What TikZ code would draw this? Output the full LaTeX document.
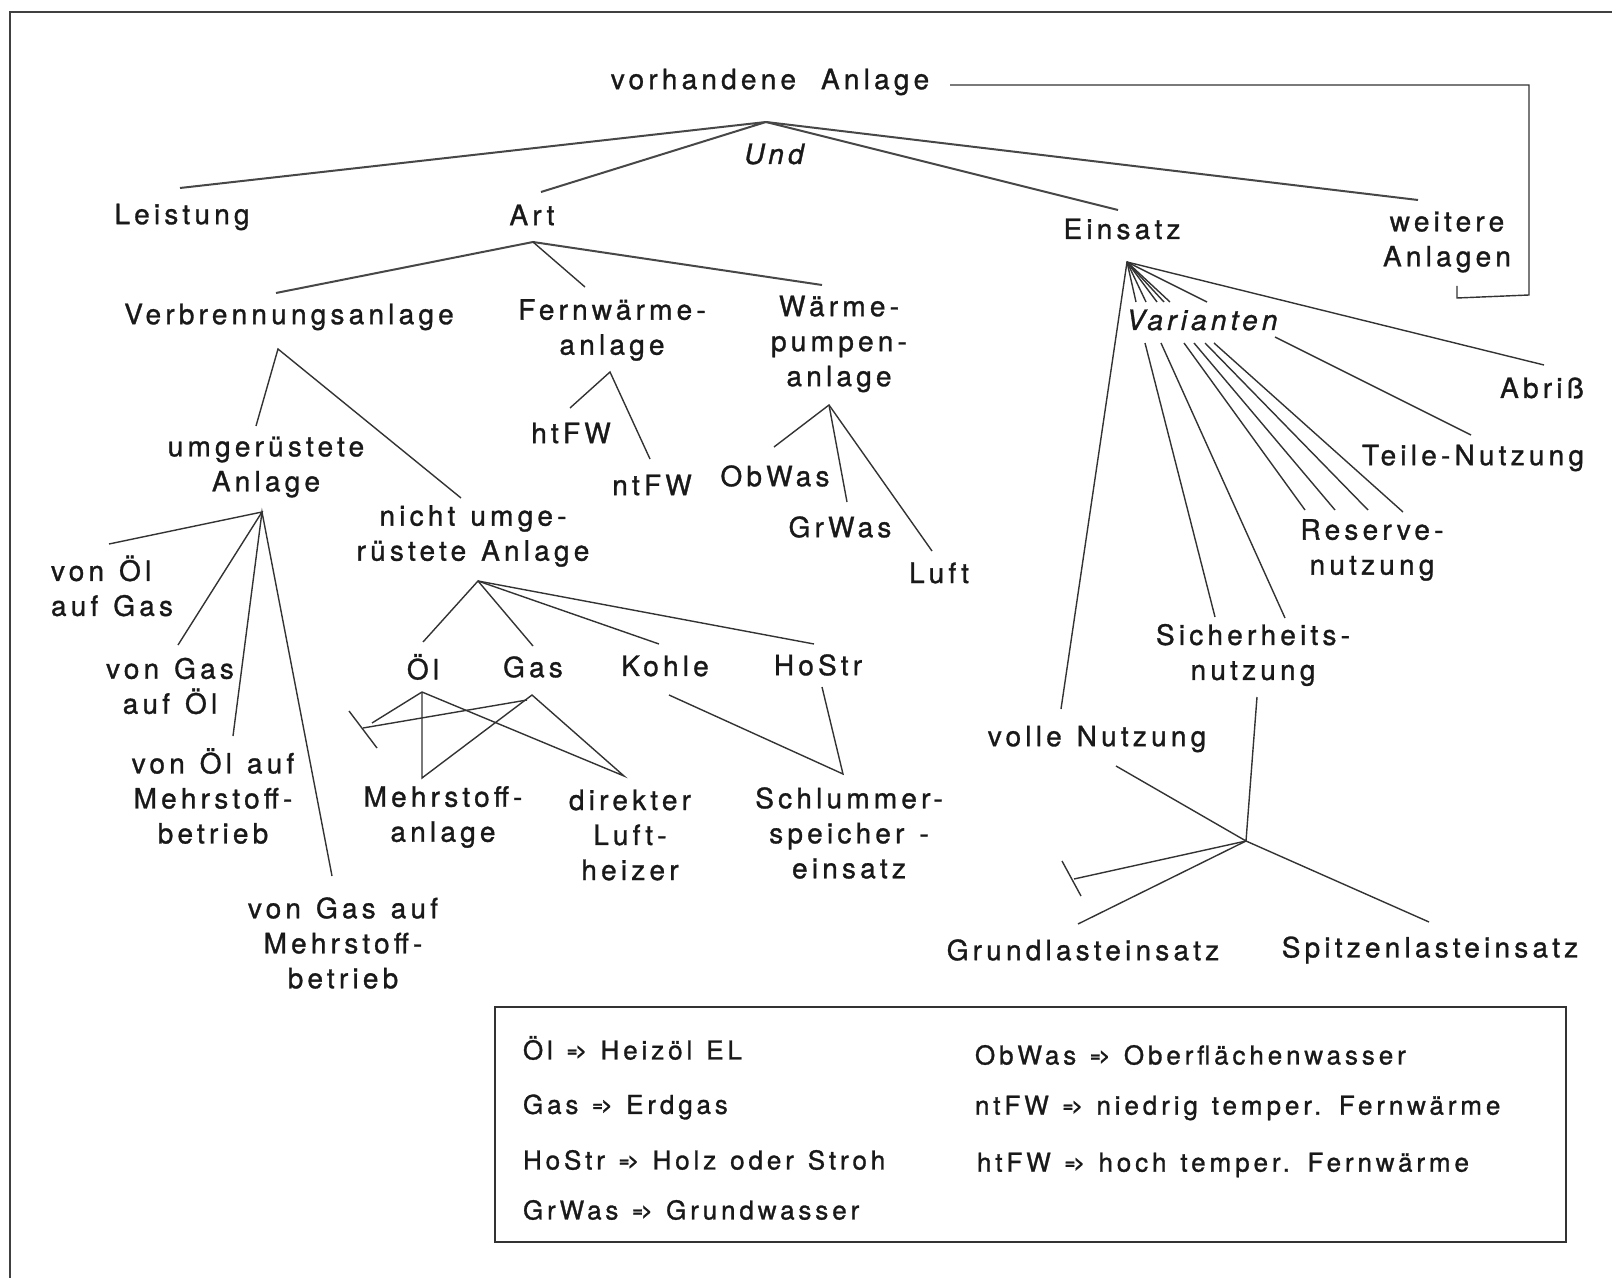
\documentclass[tikz,border=0pt]{standalone}
\usepackage{fontspec}
\newfontfamily\dfont{TeX Gyre Heros}[LetterSpace=15,FakeBold=1.1,WordSpace=1.25]
\newcommand\diafont{\dfont\fontsize{14}{17.5}\selectfont}
\newcommand\legfont{\dfont\fontsize{13}{14}\selectfont}
\newcommand\imp{{\fontsize{9}{8}\selectfont\bfseries\raisebox{0.3ex}{=\kern-0.6pt>}}}
\begin{document}
\begin{tikzpicture}[x=0.5pt,y=-0.5pt,
  every node/.style={inner sep=0pt, outer sep=0pt, text=black!90, font=\diafont},
  lbl/.style={align=center},
  con/.style={draw=black!80, line width=0.7pt},
  topcon/.style={draw=black!72, line width=1pt},
  leg/.style={anchor=west, font=\legfont},
]
\useasboundingbox (0,0) rectangle (1612,1278);
% frame
\draw[black!75, line width=0.8pt] (10,1278) -- (10,12) -- (1612,12);

% ---------- nodes ----------
\node (root) at (770,82) {vorhandene\hspace{5pt} Anlage};
\node[font=\diafont\itshape] (und) at (774,154) {Und};
\node (leistung) at (182,217) {Leistung};
\node (art) at (532,215) {Art};
\node (einsatz) at (1122,229) {Einsatz};
\node[lbl] (weitere) at (1447,242) {weitere\\Anlagen};

\node (verbr) at (289,317) {Verbrennungsanlage};
\node[lbl] (fernw) at (612,330) {Fernwärme-\\anlage};
\node[lbl] (waermep) at (839,344) {Wärme-\\pumpen-\\anlage};
\node[font=\diafont\itshape] (varianten) at (1202,320) {Varianten};
\node (abriss) at (1542,388) {Abriß};
\node (teile) at (1473,458) {Teile-Nutzung};

\node (htfw) at (571,433) {htFW};
\node (ntfw) at (652,485) {ntFW};
\node[lbl] (umger) at (266,467) {umgerüstete\\Anlage};
\node[lbl] (nicht) at (473,536) {nicht umge-\\rüstete Anlage};
\node (obwas) at (775,476) {ObWas};
\node (grwas) at (840,527) {GrWas};
\node (luft) at (939,573) {Luft};
\node[lbl] (reserve) at (1372,550) {Reserve-\\nutzung};

\node[align=left, anchor=west] (oelgas) at (51,586) {von Öl\\auf Gas};
\node[lbl] (gasoel) at (170,686) {von Gas\\auf Öl};
\node[lbl] (oelmehr) at (213,796) {von Öl auf\\Mehrstoff-\\betrieb};
\node[lbl] (gasmehr) at (343,943) {von Gas auf\\Mehrstoff-\\betrieb};

\node (oel) at (423,667) {Öl};
\node (gas) at (533,667) {Gas};
\node (kohle) at (665,666) {Kohle};
\node (hostr) at (818,665) {HoStr};
\node[lbl] (sicher) at (1253,655) {Sicherheits-\\nutzung};
\node (volle) at (1097,739) {volle Nutzung};

\node[lbl] (mehrst) at (443,817) {Mehrstoff-\\anlage};
\node[lbl] (direkt) at (630,835) {direkter\\Luft-\\heizer};
\node[lbl] (schlum) at (849,833) {Schlummer-\\speicher -\\einsatz};
\node (grund) at (1083,950) {Grundlasteinsatz};
\node (spitze) at (1430,950) {Spitzenlasteinsatz};

% ---------- junction points ----------
\coordinate (rootJ) at (766,122);
\coordinate (artJ) at (533,242);
\coordinate (verbrJ) at (278,349);
\coordinate (fernwJ) at (610,372);
\coordinate (waermepJ) at (829,405);
\coordinate (umgerJ) at (262,512);
\coordinate (nichtJ) at (478,581);
\coordinate (oelJ) at (422,692);
\coordinate (gasJ) at (532,695);
\coordinate (kohleJ) at (669,695);
\coordinate (hostrJ) at (822,687);
\coordinate (einsatzJ) at (1127,262);
\coordinate (sicherJ) at (1257,697);
\coordinate (volleJ) at (1116,766);
\coordinate (lastJ) at (1246,841);

% ---------- connector ends ----------
\coordinate (leistungE) at (180,188);
\coordinate (artE) at (541,192);
\coordinate (einsatzE) at (1118,210);
\coordinate (weitereE) at (1418,200);
\coordinate (verbrE) at (276,293);
\coordinate (fernwE) at (585,287);
\coordinate (waermepE) at (822,285);
\coordinate (umgerE) at (256,426);
\coordinate (nichtE) at (461,498);
\coordinate (htfwE) at (570,408);
\coordinate (ntfwE) at (650,459);
\coordinate (obwasE) at (774,447);
\coordinate (grwasE) at (847,502);
\coordinate (luftE) at (932,551);
\coordinate (oelgasE) at (109,544);
\coordinate (gasoelE) at (178,645);
\coordinate (oelmehrE) at (233,736);
\coordinate (gasmehrE) at (332,876);
\coordinate (oelE) at (423,642);
\coordinate (gasE) at (533,646);
\coordinate (kohleE) at (659,644);
\coordinate (hostrE) at (814,644);
\coordinate (mehrstE) at (422,778);
\coordinate (direktE) at (624,776);
\coordinate (schlumE) at (843,774);
\coordinate (stopA) at (363,728);
\coordinate (stopA1) at (349,711);
\coordinate (stopA2) at (377,748);
\coordinate (oelStop) at (372,723);
\coordinate (gasStop) at (527,700);
\coordinate (abrissE) at (1544,365);
\coordinate (volleE) at (1061,709);
\coordinate (grundE) at (1078,924);
\coordinate (spitzeE) at (1429,922);
\coordinate (stopB) at (1074,879);
\coordinate (stopB1) at (1062,861);
\coordinate (stopB2) at (1081,896);

% ---------- top level ----------
\draw[topcon] (leistungE) -- (rootJ) -- (artE);
\draw[topcon] (rootJ) -- (einsatzE);
\draw[topcon] (rootJ) -- (weitereE);
\draw[con] (950,85) -- (1529,85) -- (1529,295) -- (1457,298) -- (1457,286);

% ---------- Art ----------
\draw[topcon] (verbrE) -- (artJ) -- (waermepE);
\draw[con] (artJ) -- (fernwE);
\draw[con] (umgerE) -- (verbrJ) -- (nichtE);
\draw[con] (htfwE) -- (fernwJ) -- (ntfwE);
\draw[con] (obwasE) -- (waermepJ) -- (luftE);
\draw[con] (waermepJ) -- (grwasE);

% ---------- umgerüstete Anlage ----------
\draw[con] (oelgasE) -- (umgerJ) -- (gasoelE);
\draw[con] (oelmehrE) -- (umgerJ) -- (gasmehrE);

% ---------- nicht umgerüstete Anlage ----------
\draw[con] (oelE) -- (nichtJ) -- (gasE);
\draw[con] (nichtJ) -- (kohleE);
\draw[con] (nichtJ) -- (hostrE);
\draw[con] (oelJ) -- (mehrstE) -- (gasJ) -- (direktE) -- (oelJ);
\draw[con] (oelJ) -- (oelStop);
\draw[con] (gasStop) -- (stopA);
\draw[con] (stopA1) -- (stopA2);
\draw[con] (kohleJ) -- (schlumE) -- (hostrJ);

% ---------- Einsatz ----------
\foreach \x in {1136,1146,1157,1164,1170,1207}
  \draw[con] (einsatzJ) -- (\x,302);
\draw[con] (abrissE) -- (einsatzJ) -- (volleE);
\draw[con] (1145,343) -- (1215,617);
\draw[con] (1161,343) -- (1285,618);
\draw[con] (1184,343) -- (1305,510);
\draw[con] (1194,343) -- (1335,510);
\draw[con] (1205,343) -- (1368,510);
\draw[con] (1214,343) -- (1403,512);
\draw[con] (1275,337) -- (1471,435);
\draw[con] (sicherJ) -- (lastJ) -- (volleJ);
\draw[con] (grundE) -- (lastJ) -- (spitzeE);
\draw[con] (lastJ) -- (stopB);
\draw[con] (stopB1) -- (stopB2);

% ---------- legend ----------
\draw[black!80, line width=0.75pt] (495,1007) rectangle (1566,1242);
\node[leg] (l1) at (523,1048) {Öl \imp\ Heizöl EL};
\node[leg] (l2) at (523,1107) {Gas \imp\ Erdgas};
\node[leg] (l3) at (523,1160) {HoStr \imp\ Holz oder Stroh};
\node[leg] (l4) at (523,1210) {GrWas \imp\ Grundwasser};
\node[leg] (r1) at (975,1055) {ObWas \imp\ Oberflächenwasser};
\node[leg] (r2) at (975,1108) {ntFW \imp\ niedrig temper. Fernwärme};
\node[leg] (r3) at (977,1165) {htFW \imp\ hoch temper. Fernwärme};
\end{tikzpicture}
\end{document}
